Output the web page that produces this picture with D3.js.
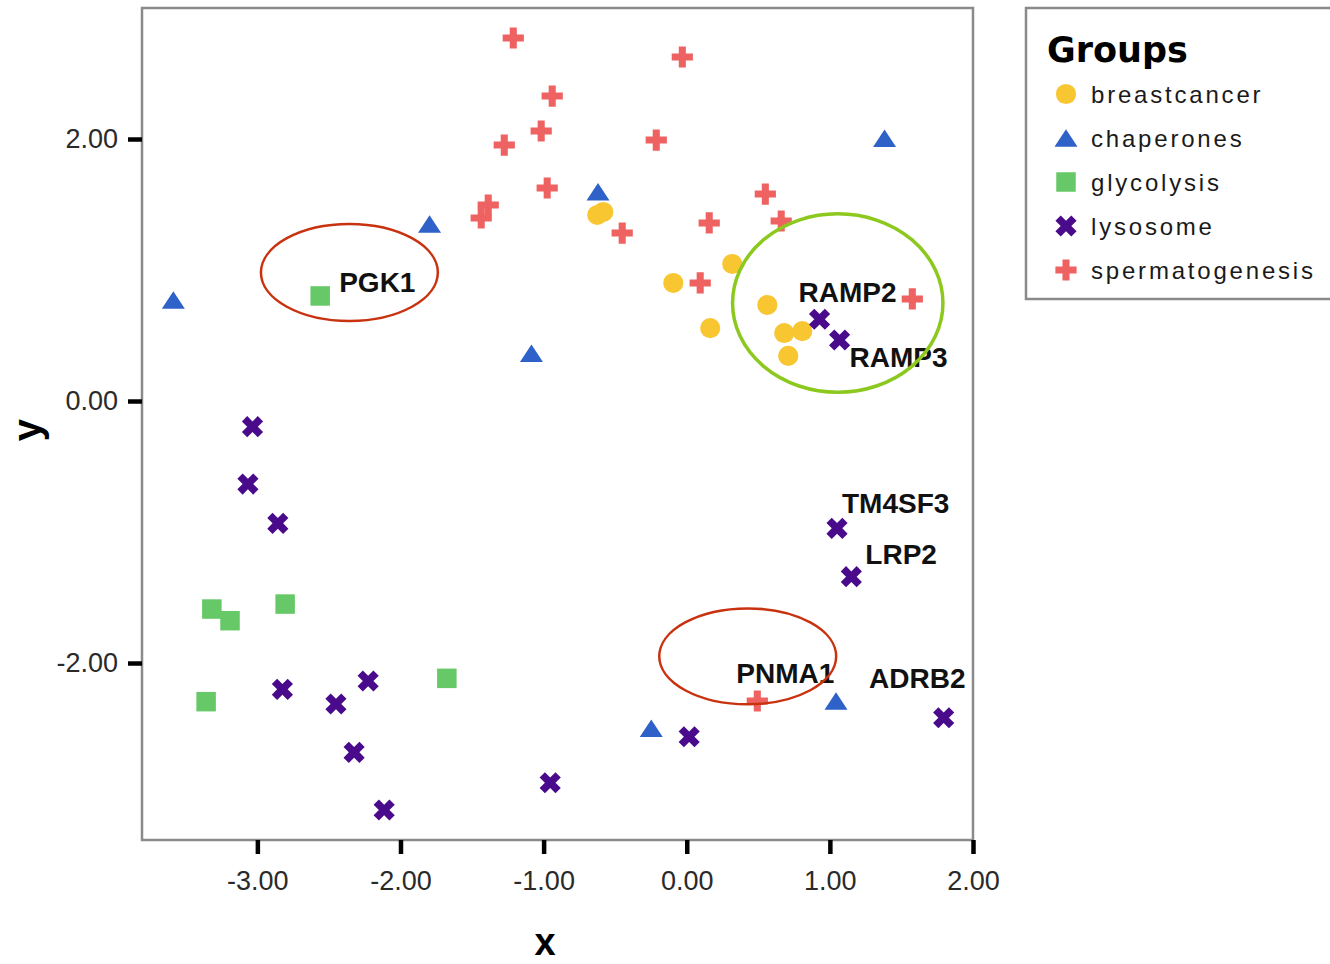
<!DOCTYPE html>
<html>
<head>
<meta charset="utf-8">
<script src="https://cdnjs.cloudflare.com/ajax/libs/d3/7.8.5/d3.min.js"></script>
<style>
body { margin: 0; background: #fff; }
svg { display: block; }
</style>
</head>
<body>
<div id="chart"></div>
<script>
// groups and their points [x, y]
var groups = ['breastcancer', 'chaperones', 'glycolysis', 'lysosome', 'spermatogenesis'];

var breastcancer = [[-0.625, 1.420], [-0.583, 1.443], [0.318, 1.046], [-0.094, 0.901], [0.563, 0.733],
    [0.164, 0.557], [0.681, 0.519], [0.807, 0.534], [0.709, 0.344]];
var chaperones = [[-3.587, 0.771], [-1.797, 1.351], [-1.085, 0.364], [-0.620, 1.598], [1.382, 2.005],
    [-0.248, -2.498], [1.043, -2.290]];
var glycolysis = [[-2.561, 0.802], [-3.318, -1.588], [-3.191, -1.677], [-2.806, -1.550],
    [-3.358, -2.295], [-1.676, -2.117]];
var lysosome = [[-3.034, -0.196], [-3.066, -0.634], [-2.857, -0.934], [-2.825, -2.201], [-2.451, -2.313],
    [-2.226, -2.137], [-2.324, -2.682], [-2.114, -3.122], [-0.954, -2.914], [0.017, -2.563],
    [1.050, -0.972], [1.150, -1.341], [1.795, -2.418], [0.928, 0.624], [1.068, 0.466]];
var spermatogenesis = [[-1.212, 2.771], [-0.031, 2.626], [-0.940, 2.328], [-1.017, 2.061], [-1.275, 1.954],
    [-0.213, 1.992], [-0.975, 1.626], [-1.387, 1.496], [-1.436, 1.397], [-0.451, 1.282],
    [0.549, 1.580], [0.157, 1.359], [0.660, 1.374], [0.094, 0.901], [1.576, 0.779], [0.493, -2.290]];

// labelled genes: name, x, y (same as the point)
var geneLabels = [['PGK1', -2.561, 0.802], ['RAMP2', 0.928, 0.624], ['RAMP3', 1.068, 0.466],
    ['TM4SF3', 1.050, -0.972], ['LRP2', 1.150, -1.341], ['PNMA1', 0.493, -2.290], ['ADRB2', 1.043, -2.290]];

// hand drawn rings: centre x, centre y, radius x, radius y (data units)
var rings = [[-2.357, 0.981, 0.618, 0.370], [1.055, 0.748, 0.735, 0.681], [0.426, -1.949, 0.618, 0.366]];

var xTicks = [-3, -2, -1, 0, 1, 2];
var yTicks = [-2, 0, 2];

// --- look ---
var groupColors = ['#f8c630', '#2f62c8', '#66c866', '#4a0a8c', '#ee6262'];
var ringColors = ['#c8320f', '#8cc81e', '#c8320f'];
var labelOffsets = { PGK1: [19, -4], RAMP2: [-21, -17], RAMP3: [10, 27], TM4SF3: [5, -15],
    LRP2: [14, -13], PNMA1: [-21, -18], ADRB2: [33, -13] };

var svgWidth = 1330, svgHeight = 964;
var plotLeft = 142, plotRight = 973, plotTop = 8, plotBottom = 840;

var svg = d3.select('#chart')
    .append('svg')
    .attr('width', svgWidth)
    .attr('height', svgHeight);

var x = d3.scaleLinear().domain([-3.806, 2.0]).range([plotLeft, plotRight]);
var y = d3.scaleLinear().domain([-3.351, 3.0]).range([plotBottom, plotTop]);

var fmt = d3.formatLocale({ decimal: '.', thousands: ',', grouping: [3], currency: ['', ''], minus: '-' }).format('.2f');

// custom triangle, size = width squared
var triangleShape = {
    draw: function(ctx, size) {
        var w = Math.sqrt(size), h = w * 0.76;
        ctx.moveTo(0, -h / 2);
        ctx.lineTo(w / 2, h / 2);
        ctx.lineTo(-w / 2, h / 2);
        ctx.closePath();
    }
};
var shapes = [d3.symbolCircle, triangleShape, d3.symbolSquare, d3.symbolCross, d3.symbolCross];
var sizes = [320, 530, 380, 280, 250];
var rotations = [0, 0, 0, 45, 0];

function marker(i) {
    return d3.symbol().type(shapes[i]).size(sizes[i])();
}

// frame
svg.append('rect')
    .attr('x', plotLeft)
    .attr('y', plotTop)
    .attr('width', plotRight - plotLeft)
    .attr('height', plotBottom - plotTop)
    .attr('fill', 'none')
    .attr('stroke', '#8a8a8a')
    .attr('stroke-width', 2.5);

// axes
var xAxis = svg.append('g')
    .attr('transform', 'translate(0,' + plotBottom + ')')
    .call(d3.axisBottom(x).tickValues(xTicks).tickFormat(fmt).tickSize(14).tickPadding(17));
var yAxis = svg.append('g')
    .attr('transform', 'translate(' + plotLeft + ',0)')
    .call(d3.axisLeft(y).tickValues(yTicks).tickFormat(fmt).tickSize(14).tickPadding(10));

[xAxis, yAxis].forEach(function(ax) {
    ax.select('.domain').remove();
    ax.selectAll('.tick line').attr('stroke', '#000').attr('stroke-width', 4.5);
    ax.selectAll('.tick text')
        .attr('fill', '#2a2a2a')
        .style('font-family', '"Liberation Sans", Arial, sans-serif')
        .style('font-size', '27px');
});

// axis titles
svg.append('text')
    .attr('x', 545)
    .attr('y', 955)
    .attr('text-anchor', 'middle')
    .style('font-family', '"Liberation Sans", Arial, sans-serif')
    .style('font-weight', 'bold')
    .style('font-size', '38px')
    .text('x');
svg.append('text')
    .attr('transform', 'translate(41,430) rotate(-90)')
    .attr('text-anchor', 'middle')
    .style('font-family', '"Liberation Sans", Arial, sans-serif')
    .style('font-weight', 'bold')
    .style('font-size', '40px')
    .text('y');

// points
var plotData = [breastcancer, chaperones, glycolysis, lysosome, spermatogenesis];
plotData.forEach(function(pts, i) {
    svg.append('g')
        .selectAll('path')
        .data(pts)
        .enter()
        .append('path')
        .attr('d', marker(i))
        .attr('fill', groupColors[i])
        .attr('transform', function(d) {
            return 'translate(' + x(d[0]) + ',' + y(d[1]) + ') rotate(' + rotations[i] + ')';
        });
});

// gene labels
svg.append('g')
    .selectAll('text')
    .data(geneLabels)
    .enter()
    .append('text')
    .attr('x', function(d) { return x(d[1]) + labelOffsets[d[0]][0]; })
    .attr('y', function(d) { return y(d[2]) + labelOffsets[d[0]][1]; })
    .style('font-family', '"Liberation Sans", Arial, sans-serif')
    .style('font-weight', 'bold')
    .style('font-size', '28px')
    .attr('fill', '#111')
    .text(function(d) { return d[0]; });

// rings
svg.append('g')
    .selectAll('ellipse')
    .data(rings)
    .enter()
    .append('ellipse')
    .attr('cx', function(d) { return x(d[0]); })
    .attr('cy', function(d) { return y(d[1]); })
    .attr('rx', function(d) { return x(d[2]) - x(0); })
    .attr('ry', function(d) { return y(0) - y(d[3]); })
    .attr('fill', 'none')
    .attr('stroke', function(d, i) { return ringColors[i]; })
    .attr('stroke-width', function(d, i) { return i === 1 ? 3.5 : 2.5; });

// legend
var legend = svg.append('g');
legend.append('rect')
    .attr('x', 1026)
    .attr('y', 8)
    .attr('width', 330)
    .attr('height', 291)
    .attr('fill', 'none')
    .attr('stroke', '#8a8a8a')
    .attr('stroke-width', 2.5);
legend.append('text')
    .attr('x', 1047)
    .attr('y', 62)
    .style('font-family', '"DejaVu Sans", Verdana, sans-serif')
    .style('font-weight', 'bold')
    .style('font-size', '35px')
    .text('Groups');

var item = legend.selectAll('g.item')
    .data(groups)
    .enter()
    .append('g')
    .attr('class', 'item')
    .attr('transform', function(d, i) { return 'translate(0,' + (94 + i * 44) + ')'; });
item.append('path')
    .attr('d', function(d, i) { return marker(i); })
    .attr('fill', function(d, i) { return groupColors[i]; })
    .attr('transform', function(d, i) { return 'translate(1066,0) rotate(' + rotations[i] + ')'; });
item.append('text')
    .attr('x', 1091)
    .attr('y', 9)
    .style('font-family', '"Liberation Sans", Arial, sans-serif')
    .style('font-size', '24px')
    .style('letter-spacing', '2.8px')
    .attr('fill', '#1a1a1a')
    .text(function(d) { return d; });
</script>
</body>
</html>
